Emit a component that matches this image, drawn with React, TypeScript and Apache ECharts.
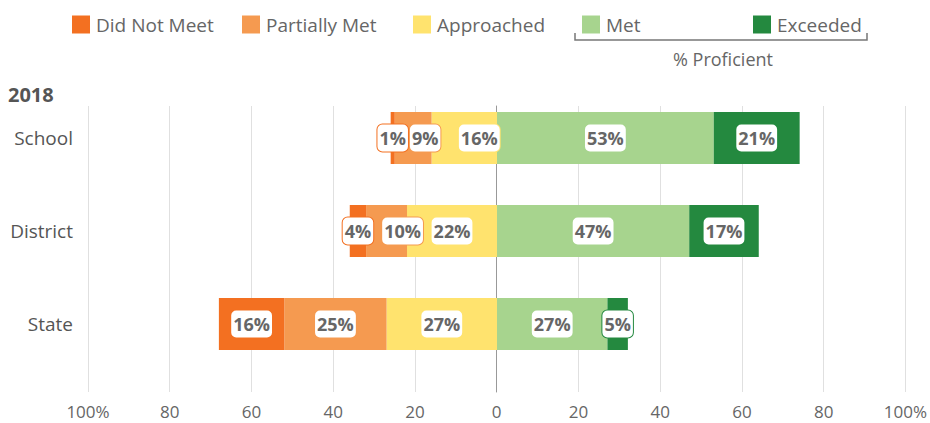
import React, { useEffect, useRef } from "react";
import * as echarts from "echarts";

const categories = ["School", "District", "State"];
const didNotMeet = [1, 4, 16];
const partiallyMet = [9, 10, 25];
const approached = [16, 22, 27];
const met = [53, 47, 27];
const exceeded = [21, 17, 5];
const yearLabel = "2018";
const bracketLabel = "% Proficient";

const FONT = "'Open Sans', 'Noto Sans', sans-serif";

const colors: Record<string, string> = {
  "Did Not Meet": "#F37021",
  "Partially Met": "#F59A50",
  Approached: "#FFE36E",
  Met: "#A7D48E",
  Exceeded: "#24893F",
};

// horizontal label nudges (px) to avoid overlapping label boxes
const labelShift: Record<string, number[]> = {
  "Partially Met": [12, 16, 0],
  Approached: [15, 0, 0],
};

function makeSeries(name: string, values: number[], sign: number) {
  const shifts = labelShift[name] || [0, 0, 0];
  return {
    name,
    type: "bar",
    stack: "total",
    xAxisIndex: 1,
    yAxisIndex: 1,
    barWidth: 52,
    itemStyle: { color: colors[name] },
    data: values.map((v, i) => ({
      value: sign * v,
      label: { offset: [shifts[i], 0] },
    })),
    label: {
      show: true,
      position: "inside",
      formatter: (p: any) => Math.abs(p.value) + "%",
      fontFamily: FONT,
      fontSize: 18,
      fontWeight: "bold",
      color: "#666",
      backgroundColor: "#fff",
      borderColor: colors[name],
      borderWidth: 1,
      borderRadius: 5,
      lineHeight: 19,
      padding: [4, 2, 4, 2],
    },
  };
}

const legendItems = [
  { name: "Did Not Meet", left: 67 },
  { name: "Partially Met", left: 237 },
  { name: "Approached", left: 408 },
  { name: "Met", left: 577 },
  { name: "Exceeded", left: 748 },
];

export default function App() {
  const ref = useRef<HTMLDivElement>(null);
  useEffect(() => {
    if (!ref.current) return;
    const chart = echarts.init(ref.current, null, { renderer: "svg" });
    const option: any = {
      animation: false,
      textStyle: { fontFamily: FONT },
      title: {
        text: yearLabel,
        left: 3,
        top: 79,
        textStyle: { fontFamily: FONT, fontSize: 20, fontWeight: "bold", color: "#555" },
      },
      legend: legendItems.map((it) => ({
        data: [it.name],
        left: it.left,
        top: 10,
        itemWidth: 18,
        itemHeight: 18,
        icon: "rect",
        selectedMode: false,
        textStyle: { fontFamily: FONT, fontSize: 19, color: "#666", padding: [0, 0, 0, 1] },
      })),
      grid: [
        { left: 88, right: 24, top: 106, bottom: 31 },
        { left: 88, right: 24, top: 91.5, height: 279 },
      ],
      xAxis: [
        {
          type: "value",
          gridIndex: 0,
          min: -100,
          max: 100,
          interval: 20,
          axisLine: { show: false },
          axisTick: { show: false },
          splitLine: { show: true, lineStyle: { color: "#e0e0e0", width: 1 } },
          axisLabel: {
            fontFamily: FONT,
            fontSize: 17,
            color: "#666",
            margin: 11,
            formatter: (v: number) => (Math.abs(v) === 100 ? "100%" : String(Math.abs(v))),
          },
        },
        {
          type: "value",
          gridIndex: 1,
          min: -100,
          max: 100,
          show: false,
        },
      ],
      yAxis: [
        {
          type: "value",
          gridIndex: 0,
          min: 0,
          max: 1,
          axisLine: { show: true, onZero: true, lineStyle: { color: "#999", width: 1 } },
          axisTick: { show: false },
          axisLabel: { show: false },
          splitLine: { show: false },
        },
        {
          type: "category",
          gridIndex: 1,
          data: categories,
          inverse: true,
          axisLine: { show: false },
          axisTick: { show: false },
          splitLine: { show: false },
          axisLabel: { fontFamily: FONT, fontSize: 19, color: "#555", margin: 15 },
        },
      ],
      graphic: [
        {
          type: "polyline",
          shape: { points: [[575, 33], [575, 40], [867, 40], [867, 33]] },
          style: { stroke: "#777", lineWidth: 1.5, fill: null },
        },
        {
          type: "text",
          x: 723,
          y: 59,
          style: {
            text: bracketLabel,
            fontFamily: FONT,
            fontSize: 18,
            fill: "#666",
            textAlign: "center",
            textVerticalAlign: "middle",
          },
        },
      ],
      series: [
        makeSeries("Approached", approached, -1),
        makeSeries("Partially Met", partiallyMet, -1),
        makeSeries("Did Not Meet", didNotMeet, -1),
        makeSeries("Met", met, 1),
        makeSeries("Exceeded", exceeded, 1),
      ],
    };
    chart.setOption(option);
    return () => chart.dispose();
  }, []);
  return (
    <div
      ref={ref}
      style={{ position: "fixed", left: 0, top: 0, width: 930, height: 423, background: "#fff" }}
    />
  );
}
